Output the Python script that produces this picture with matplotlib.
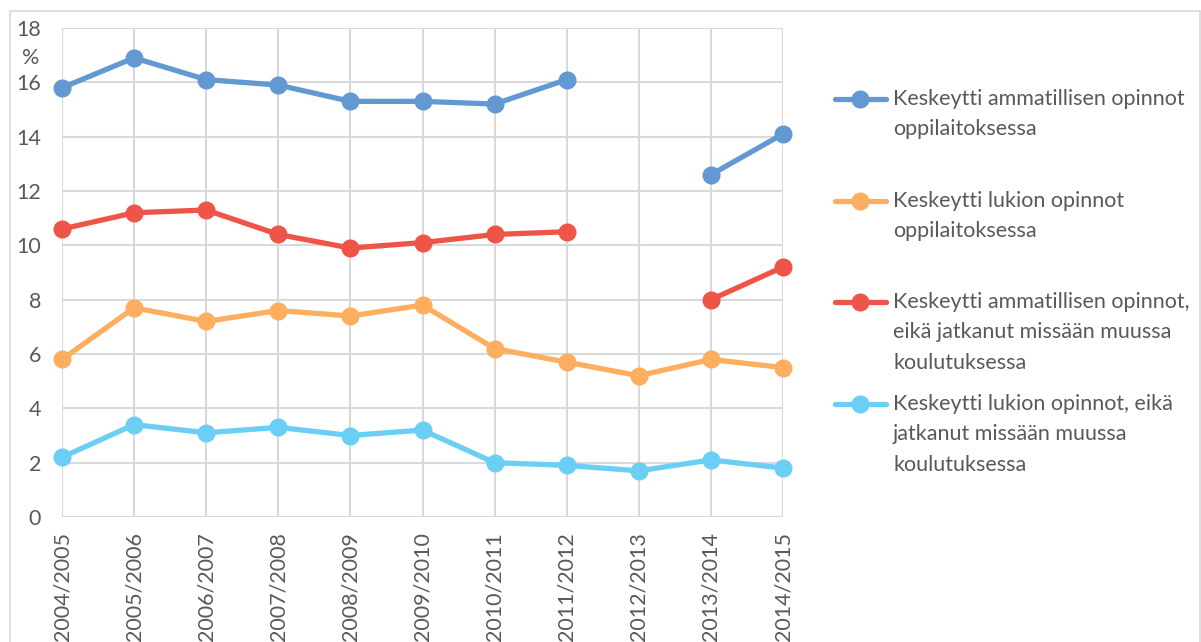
import numpy as np
import matplotlib.pyplot as plt
from matplotlib.lines import Line2D
from matplotlib.patches import Rectangle

plt.rcParams['font.family'] = ['Lato', 'DejaVu Sans']

years = ["2004/2005", "2005/2006", "2006/2007", "2007/2008", "2008/2009",
         "2009/2010", "2010/2011", "2011/2012", "2012/2013", "2013/2014",
         "2014/2015"]

# nan = no value for that year
amm_oppilaitos = [15.8, 16.9, 16.1, 15.9, 15.3, 15.3, 15.2, 16.1, np.nan, 12.6, 14.1]
lukio_oppilaitos = [5.8, 7.7, 7.2, 7.6, 7.4, 7.8, 6.2, 5.7, 5.2, 5.8, 5.5]
amm_ei_jatkanut = [10.6, 11.2, 11.3, 10.4, 9.9, 10.1, 10.4, 10.5, np.nan, 8.0, 9.2]
lukio_ei_jatkanut = [2.2, 3.4, 3.1, 3.3, 3.0, 3.2, 2.0, 1.9, 1.7, 2.1, 1.8]

labels = ["Keskeytti ammatillisen opinnot\noppilaitoksessa",
          "Keskeytti lukion opinnot\noppilaitoksessa",
          "Keskeytti ammatillisen opinnot,\neikä jatkanut missään muussa\nkoulutuksessa",
          "Keskeytti lukion opinnot, eikä\njatkanut missään muussa\nkoulutuksessa"]
series = [amm_oppilaitos, lukio_oppilaitos, amm_ei_jatkanut, lukio_ei_jatkanut]
colors = ["#6399d3", "#fdae5e", "#ef5448", "#6bcef5"]

W, H = 1201, 642
text_col = "#595959"
grid_col = "#d9d9d9"
fs = 15.5

fig = plt.figure(figsize=(W / 100, H / 100), dpi=100)
fig.patches.append(Rectangle((10 / W, -0.1), (W - 11) / W, 1.1 - 11 / H,
                             transform=fig.transFigure, fill=False,
                             edgecolor=grid_col, linewidth=1.2))

ax = fig.add_axes([62 / W, 1 - 517 / H, (783 - 62) / W, (517 - 28) / H])
x = np.arange(len(years))
# draw in reverse so the first series is on top
for vals, col in list(zip(series, colors))[::-1]:
    ax.plot(x, vals, color=col, lw=3.8, marker='o', markersize=12,
            solid_capstyle='round', clip_on=False, zorder=3)

ax.set_xlim(0, len(years) - 1)
ax.set_ylim(0, 18)
ax.set_yticks(range(0, 19, 2))
ax.set_xticks(x)
ax.set_xticklabels(years, rotation=90, va='top')
ax.grid(True, color=grid_col, lw=1.5)
ax.set_axisbelow(True)
for s in ax.spines.values():
    s.set_visible(False)
ax.tick_params(length=0, labelsize=fs, labelcolor=text_col)
ax.tick_params(axis='y', pad=15)
ax.tick_params(axis='x', pad=11)
fig.text(31 / W, 1 - 58 / H, "%", fontsize=fs, color=text_col,
         ha='center', va='center')

# legend drawn by hand
ys = [99, 201, 302, 404]
for lab, col, yc in zip(labels, colors, ys):
    yf = 1 - yc / H
    fig.lines.append(Line2D([835 / W, 886 / W], [yf, yf], color=col, lw=3.8,
                            solid_capstyle='round', transform=fig.transFigure))
    fig.lines.append(Line2D([860 / W], [yf], color=col, marker='o', markersize=12,
                            transform=fig.transFigure))
    fig.text(893 / W, 1 - (yc - 10) / H, lab, fontsize=fs, color=text_col,
             ha='left', va='top', linespacing=1.65)

fig.savefig("out.png", dpi=100)
